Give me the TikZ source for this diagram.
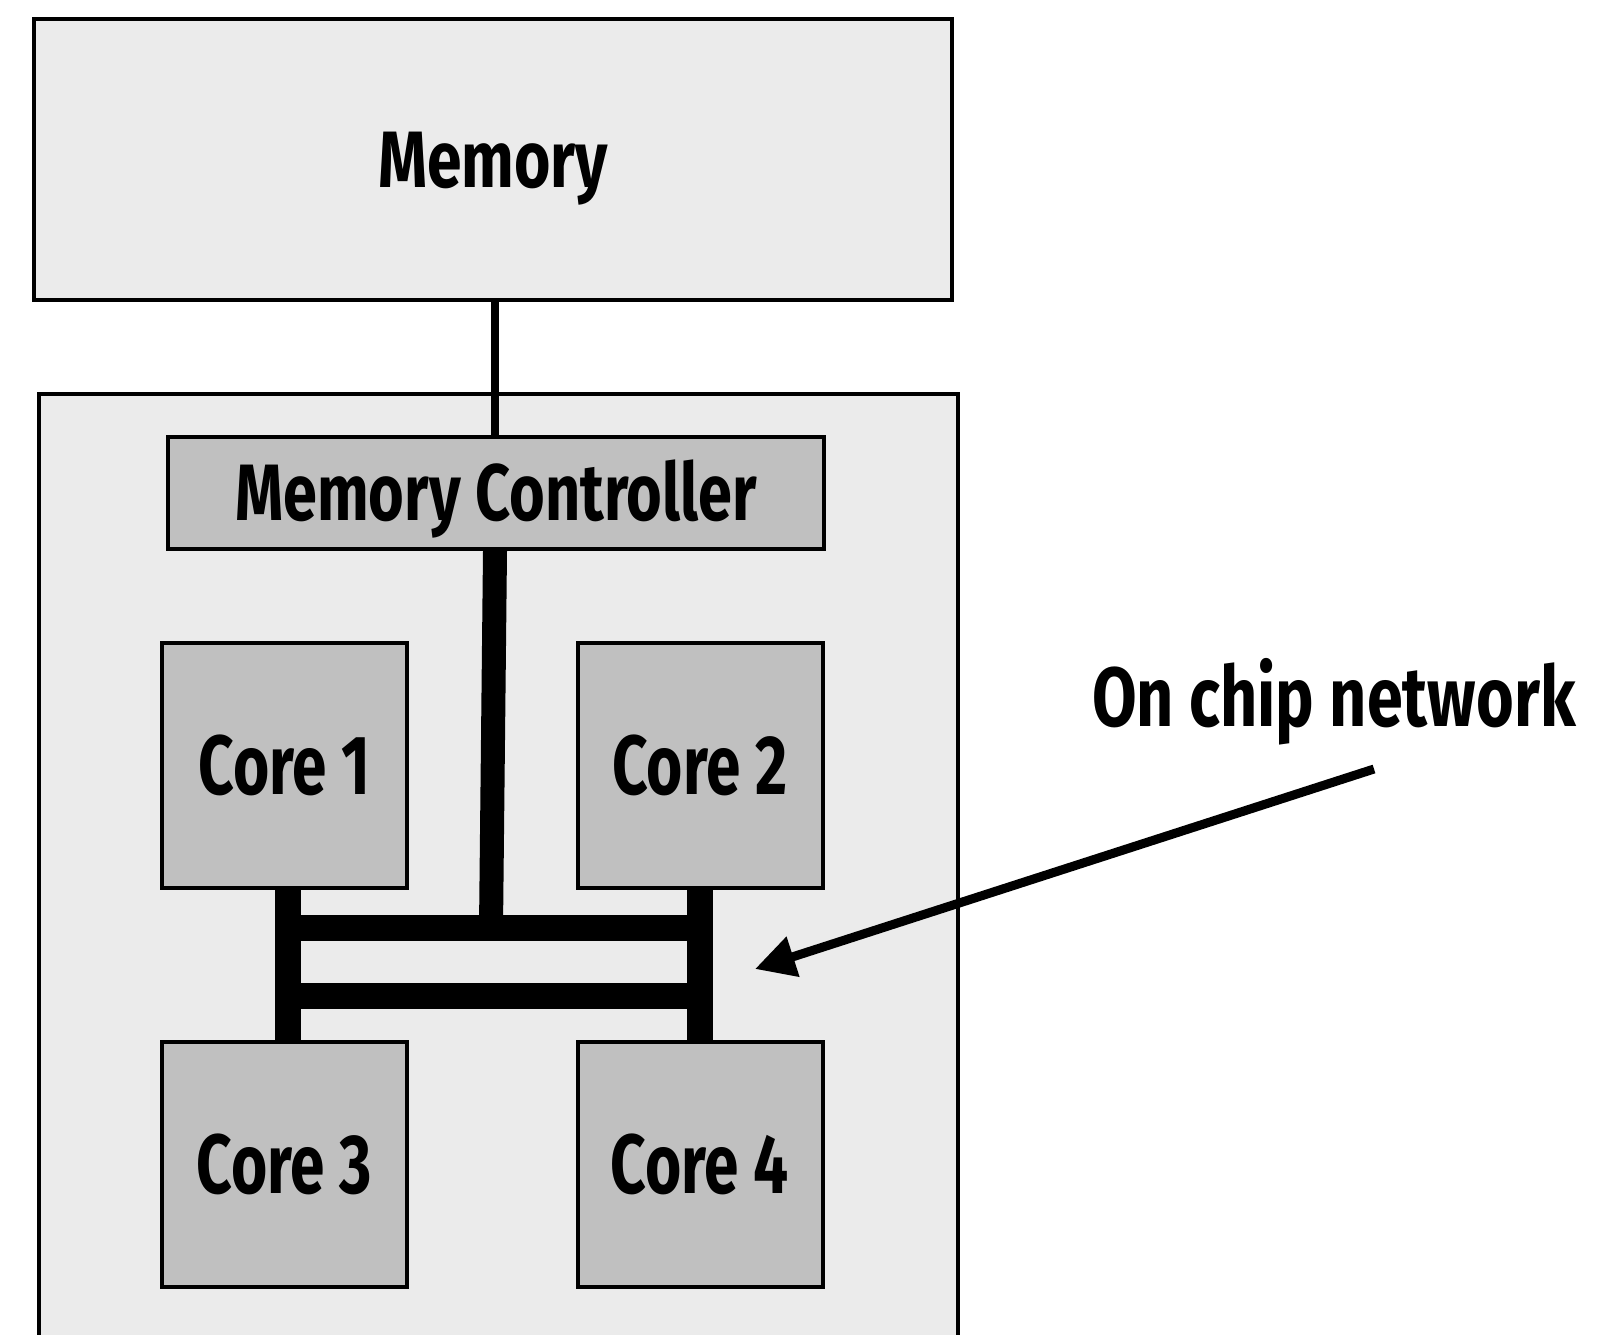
\documentclass[tikz,border=0pt]{standalone}
\usepackage{fontspec}
\setmainfont[FakeStretch=0.78]{Fira Sans}
\newfontfamily\corefont[FakeStretch=0.74]{Fira Sans}
\newfontfamily\ctrlfont[FakeStretch=0.765]{Fira Sans}
\newfontfamily\labelfont[FakeStretch=0.77]{Fira Sans}
\usetikzlibrary{arrows.meta,calc}
\definecolor{lightbg}{HTML}{EBEBEB}
\definecolor{coregray}{HTML}{C0C0C0}
\begin{document}
\begin{tikzpicture}[x=0.5pt,y=-0.5pt,
  box/.style={draw=black, line width=2pt, inner sep=0pt, text depth=0pt},
  membox/.style={box, fill=lightbg, minimum width=459pt, minimum height=140.5pt,
    font=\bfseries\fontsize{40}{40}\selectfont, text height=27.6pt},
  ctrlbox/.style={box, fill=coregray, minimum width=328pt, minimum height=56pt,
    font=\ctrlfont\bfseries\fontsize{40}{40}\selectfont, text height=27.6pt},
  corebox/.style={box, fill=coregray, minimum width=122.5pt, minimum height=122.5pt,
    font=\corefont\bfseries\fontsize{42}{42}\selectfont, text height=29pt},
  net/.style={line width=13pt, line cap=butt},
  thin/.style={line width=4pt},
  pointer/.style={line width=4.5pt, -{Triangle[length=20pt,width=20pt]}},
  label/.style={font=\labelfont\bfseries\fontsize{42}{42}\selectfont, inner sep=0pt, text height=29pt, text depth=0pt}]
\clip (0,0) rectangle (1622,1334);
\useasboundingbox (0,0) rectangle (1622,1334);
\fill[white] (0,0) rectangle (1622,1334);
% chip
\node[draw=black, line width=2pt, fill=lightbg, inner sep=0pt, minimum width=459.5pt, minimum height=480pt] (chip) at (498.5,874) {};
% boxes
\node[membox] (mem) at (493,159.5) {Memory};
\node[ctrlbox] (mc) at (496,493) {Memory Controller};
\node[corebox] (c1) at (284.5,765.5) {Core 1};
\node[corebox] (c2) at (700,765.5) {Core 2};
\node[corebox] (c3) at (284.5,1164) {Core 3};
\node[corebox] (c4) at (700,1164) {Core 4};
% memory link
\draw[thin] ($(mem.south)+(1.5,0)$) -- ($(mc.north)+(-1.5,0)$);
% network
\coordinate (lt) at ($(c1.south)+(3.5,0)$);
\coordinate (lb) at ($(c3.north)+(3.5,0)$);
\coordinate (b1l) at (288,928);
\coordinate (b1r) at (700,928);
\coordinate (b2l) at (288,996);
\coordinate (b2r) at (700,996);
\coordinate (bm) at (491,928);
\draw[net] (b1l) -- (b1r);
\draw[net] (b2l) -- (b2r);
\draw[net] (lt) -- (lb);
\draw[net] (c2.south) -- (c4.north);
\draw[line width=12pt] ($(mc.south)+(-1,0)$) -- (bm);
% label and pointer
\node[label] (onc) at (1334,697) {On chip network};
\coordinate (as) at (1374,769);
\coordinate (at) at (755,969);
\draw[pointer] (as) -- (at);
\end{tikzpicture}
\end{document}
